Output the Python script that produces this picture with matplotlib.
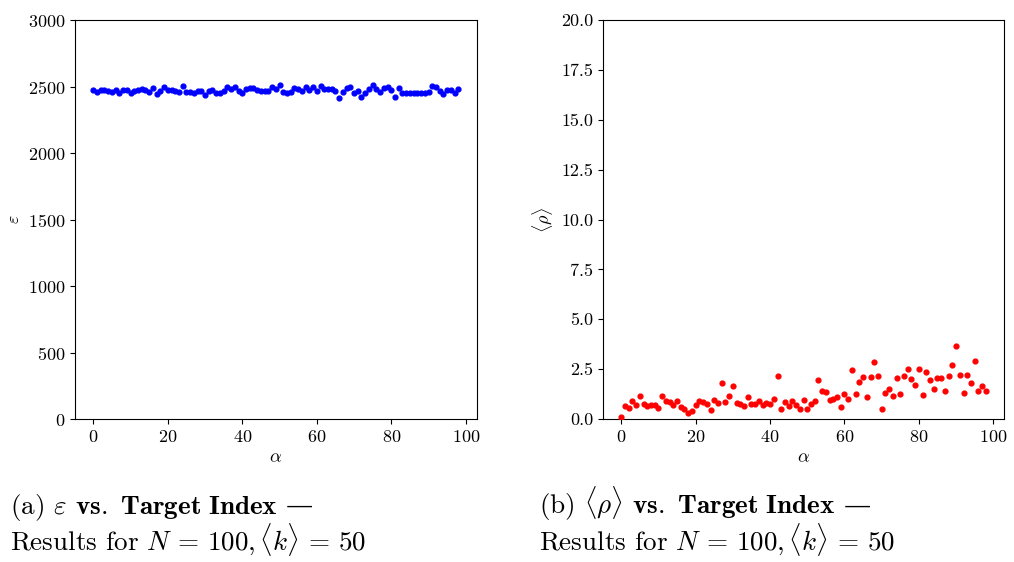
import matplotlib
matplotlib.use("Agg")
import matplotlib.pyplot as plt

plt.rcParams['font.family'] = ['cmr10', 'DejaVu Serif']
plt.rcParams['mathtext.fontset'] = 'cm'
plt.rcParams['axes.formatter.use_mathtext'] = True
plt.rcParams['axes.unicode_minus'] = False

# target index
alpha = list(range(99))

# epsilon per target (left panel)
epsilon = [2474, 2459, 2474, 2474, 2469, 2459, 2472, 2454, 2474, 2477,
           2452, 2467, 2474, 2479, 2474, 2459, 2492, 2444, 2467, 2499,
           2472, 2477, 2464, 2459, 2502, 2462, 2459, 2452, 2469, 2467,
           2439, 2464, 2474, 2454, 2452, 2469, 2494, 2484, 2494, 2469,
           2452, 2479, 2489, 2492, 2474, 2464, 2464, 2464, 2497, 2478,
           2509, 2457, 2452, 2459, 2487, 2479, 2464, 2499, 2474, 2499,
           2464, 2504, 2482, 2482, 2484, 2464, 2414, 2459, 2487, 2497,
           2449, 2467, 2421, 2449, 2479, 2512, 2479, 2459, 2487, 2497,
           2474, 2424, 2492, 2452, 2452, 2449, 2454, 2452, 2452, 2454,
           2457, 2507, 2497, 2467, 2444, 2474, 2477, 2449, 2482]

# mean rho per target (right panel)
rho = [0.08, 0.67, 0.57, 0.92, 0.68, 1.15, 0.77, 0.67, 0.72, 0.72,
       0.57, 1.15, 0.92, 0.83, 0.68, 0.90, 0.58, 0.50, 0.32, 0.42,
       0.70, 0.92, 0.83, 0.77, 0.43, 0.93, 0.78, 1.82, 0.85, 1.17,
       1.65, 0.82, 0.75, 0.63, 1.08, 0.77, 0.77, 0.92, 0.70, 0.78,
       0.77, 1.00, 2.17, 0.50, 0.83, 0.65, 0.92, 0.72, 0.52, 0.97,
       0.50, 0.77, 0.90, 1.95, 1.38, 1.37, 0.95, 0.98, 1.10, 0.62,
       1.23, 1.00, 2.45, 1.27, 1.87, 2.13, 1.10, 2.13, 2.88, 2.18,
       0.52, 1.30, 1.48, 1.13, 2.05, 1.25, 2.18, 2.50, 2.03, 1.73,
       2.53, 1.22, 2.35, 1.98, 1.48, 2.07, 2.05, 1.40, 2.15, 2.70,
       3.67, 2.20, 1.32, 2.22, 1.83, 2.92, 1.38, 1.68, 1.38]

fig = plt.figure(figsize=(10.14, 5.62), dpi=100)
ax1 = fig.add_axes([0.074, 0.2544, 0.396, 0.71])
ax2 = fig.add_axes([0.5947, 0.2544, 0.3955, 0.71])

ax1.scatter(alpha, epsilon, s=12, color='blue', zorder=3)
ax1.set_ylim(0, 3000)
ax1.set_yticks(range(0, 3001, 500))
ax1.set_xlabel(r'$\alpha$', fontsize=13)
ax1.set_ylabel(r'$\varepsilon$', fontsize=13)

ax2.scatter(alpha, rho, s=12, color='red', zorder=3)
ax2.set_ylim(0, 20)
ax2.set_yticks([0, 2.5, 5, 7.5, 10, 12.5, 15, 17.5, 20])
ax2.set_yticklabels(['0.0', '2.5', '5.0', '7.5', '10.0', '12.5', '15.0', '17.5', '20.0'])
ax2.set_xlabel(r'$\alpha$', fontsize=13)
ax2.set_ylabel(r'$\langle\rho\rangle$', fontsize=13)

for ax in (ax1, ax2):
    ax.set_xticks([0, 20, 40, 60, 80, 100])
    ax.tick_params(labelsize=13)

# captions under each panel
renderer = fig.canvas.get_renderer()
captions = [(0.010, r'(a) $\varepsilon$ $\mathbf{vs.\ Target\ Index}$'),
            (0.532, r'(b) $\langle\rho\rangle$ $\mathbf{vs.\ Target\ Index}$')]
for x0, first in captions:
    t = fig.text(x0, 0.086, first, fontsize=19.5, va='baseline')
    bb = t.get_window_extent(renderer)
    fig.text(bb.x1 / fig.bbox.width + 0.008, 0.086, '—', fontsize=19.5,
             va='baseline', family='DejaVu Serif')
    fig.text(x0, 0.021, r'Results for $N\,=\,100, \langle k\rangle\,=\,50$',
             fontsize=19.5, va='baseline')

fig.savefig('out.png', dpi=100)
